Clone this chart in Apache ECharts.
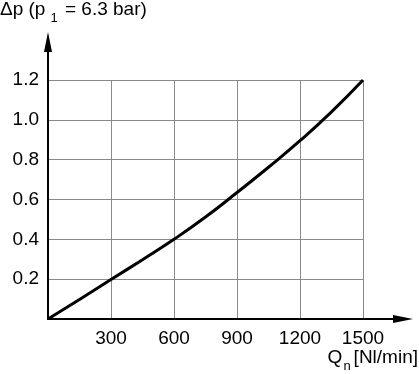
<!DOCTYPE html>
<html>
<head>
<meta charset="utf-8">
<script src="https://cdn.jsdelivr.net/npm/echarts@6/dist/echarts.min.js"></script>
<style>
html,body{margin:0;padding:0;background:#fff;}
#c{width:419px;height:374px;}
</style>
</head>
<body>
<div id="c"></div>
<script>
const flowValues = [0, 150, 300, 450, 600, 750, 900, 1050, 1200, 1350, 1500];
const pressureDrop = [0, 0.098, 0.198, 0.298, 0.4, 0.512, 0.635, 0.762, 0.895, 1.04, 1.2];
const xTicks = [300, 600, 900, 1200, 1500];
const yTicks = [0.2, 0.4, 0.6, 0.8, 1.0, 1.2];

const FONT = '"Liberation Sans", Arial, sans-serif';
const chart = echarts.init(document.getElementById('c'), null, {renderer: 'canvas'});
const seriesData = flowValues.map((q, i) => [q, pressureDrop[i]]);

const mainText = {fontSize: 19, fontWeight: 'normal', fontFamily: FONT, color: '#000', verticalAlign: 'top', lineHeight: 26};
const subText = {fontSize: 13, fontWeight: 'normal', fontFamily: FONT, color: '#000', verticalAlign: 'top', lineHeight: 26};

chart.setOption({
  animation: false,
  backgroundColor: '#fff',
  title: [
    {
      text: '{a|Δp (p}{s|1}{a| = 6.3 bar)}',
      left: 0, top: 0, padding: 0,
      textStyle: {
        fontWeight: 'normal',
        rich: {a: mainText, s: Object.assign({}, subText, {padding: [12, 2, 0, 5]})}
      }
    },
    {
      text: '{a|Q}{s|n}{a|[Nl/min]}',
      right: 1, top: 348, padding: 0,
      textStyle: {
        fontWeight: 'normal',
        rich: {a: mainText, s: Object.assign({}, subText, {padding: [12, 3, 0, 1]})}
      }
    }
  ],
  grid: [
    {left: 48, right: 56, top: 80, bottom: 55},
    {left: 48, right: 16, top: 42, bottom: 55}
  ],
  xAxis: [
    {
      type: 'value', gridIndex: 0, min: 0, max: 1500, interval: 300,
      axisLine: {show: false}, axisTick: {show: false},
      splitLine: {show: true, lineStyle: {color: '#8a8a8a', width: 1}},
      axisLabel: {
        show: true, margin: 10, fontSize: 19, fontFamily: FONT, color: '#000',
        formatter: v => (xTicks.indexOf(v) >= 0 ? String(v) : '')
      }
    },
    {
      type: 'value', gridIndex: 1, min: 0, max: 1, position: 'bottom',
      axisLine: {show: true, onZero: false, symbol: ['none', 'triangle'], symbolSize: [8, 20], lineStyle: {color: '#000', width: 2}},
      axisTick: {show: false}, axisLabel: {show: false}, splitLine: {show: false}
    }
  ],
  yAxis: [
    {
      type: 'value', gridIndex: 0, min: 0, max: 1.2, interval: 0.2,
      axisLine: {show: false}, axisTick: {show: false},
      splitLine: {show: true, lineStyle: {color: '#8a8a8a', width: 1}},
      axisLabel: {
        show: true, margin: 9, fontSize: 19, fontFamily: FONT, color: '#000',
        formatter: v => {
          const r = Math.round(v * 10) / 10;
          return yTicks.some(t => Math.abs(t - r) < 1e-6) ? r.toFixed(1) : '';
        }
      }
    },
    {
      type: 'value', gridIndex: 1, min: 0, max: 1, position: 'left',
      axisLine: {show: true, onZero: false, symbol: ['none', 'triangle'], symbolSize: [8, 20], lineStyle: {color: '#000', width: 2}},
      axisTick: {show: false}, axisLabel: {show: false}, splitLine: {show: false}
    }
  ],
  series: [
    {
      type: 'line', xAxisIndex: 0, yAxisIndex: 0,
      data: seriesData, smooth: 0.5, showSymbol: false, symbol: 'none',
      lineStyle: {color: '#000', width: 3}, z: 5
    }
  ]
});
</script>
</body>
</html>
